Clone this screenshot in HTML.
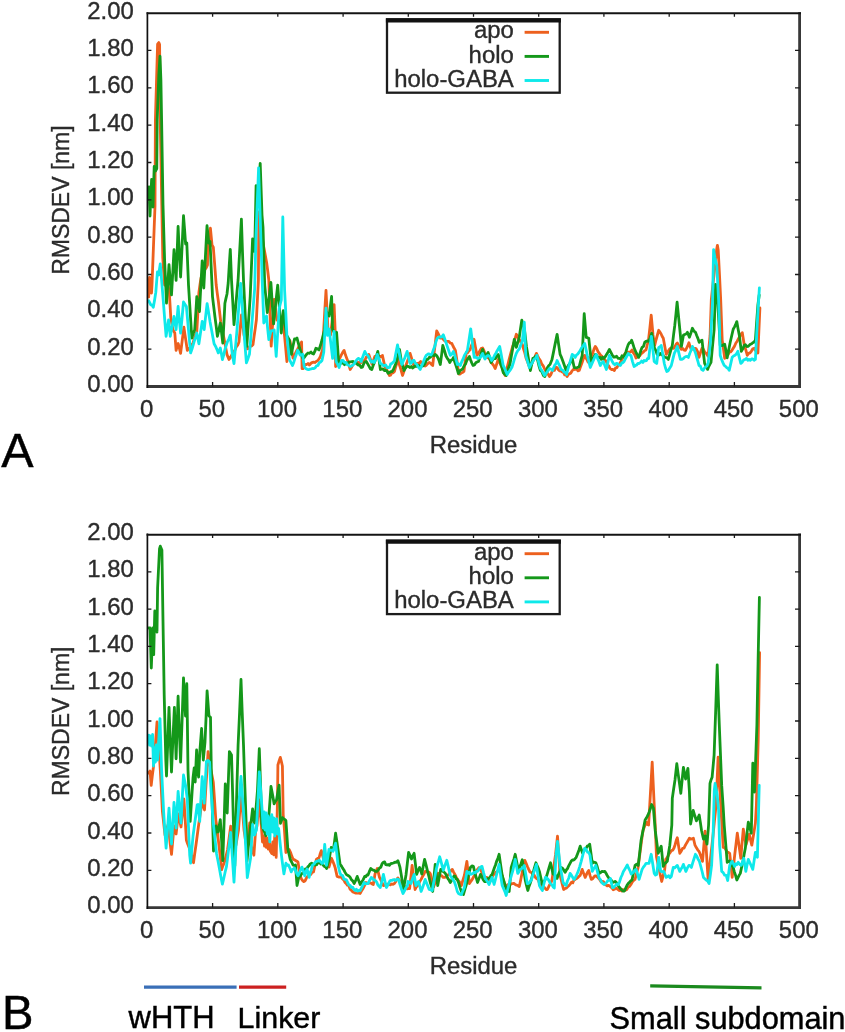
<!DOCTYPE html>
<html lang="en"><head><meta charset="utf-8"><title>RMSDEV per residue</title>
<style>html,body{margin:0;padding:0;background:#fff}body{width:845px;height:1032px;overflow:hidden}svg{display:block}</style>
</head><body>
<svg width="845" height="1032" viewBox="0 0 845 1032">
<style>.t{font-family:"Liberation Sans",sans-serif;font-size:23px;fill:#2b2b2b;stroke:#2b2b2b;stroke-width:.35px}.b{font-family:"Liberation Sans",sans-serif;fill:#000;stroke:#000;stroke-width:.45px}</style>
<rect width="845" height="1032" fill="#fff"/>
<polyline points="148.7,297.0 149.5,277.5 151.5,293.0 152.0,285.0 153.5,245.5 155.0,206.0 155.4,120.0 156.5,82.0 157.6,44.0 158.8,42.5 159.6,44.5 160.2,120.0 161.8,205.0 162.8,258.0 164.5,285.0 166.5,280.0 168.0,285.0 169.3,292.0 170.8,318.0 171.9,324.0 173.0,330.0 174.8,333.0 176.1,350.4 177.1,346.4 178.2,343.5 179.4,348.4 180.6,353.3 181.7,344.6 182.8,335.9 183.9,327.2 185.0,334.9 186.2,342.7 187.3,350.4 188.7,348.3 190.0,348.0 191.5,345.0 193.0,343.0 194.3,339.0 195.5,334.7 196.8,331.4 197.9,311.9 198.9,292.4 199.9,285.2 201.0,278.0 202.5,273.7 204.0,270.0 205.2,269.1 206.3,267.7 207.5,265.0 207.8,246.0 209.1,237.1 210.4,228.2 212.0,245.0 213.3,247.2 214.8,266.1 216.2,285.0 217.2,292.9 218.3,300.7 219.5,311.0 220.7,321.4 222.1,328.6 223.5,335.8 224.9,343.0 225.9,348.8 227.0,354.6 229.0,359.5 230.2,357.9 231.5,355.4 232.7,353.1 233.8,351.5 235.0,350.0 236.3,346.8 237.7,345.1 239.0,342.0 240.2,328.4 241.5,314.8 242.8,324.9 244.0,335.0 245.1,339.6 246.2,344.2 247.3,348.8 248.7,348.4 250.2,345.6 251.6,346.1 253.0,344.6 254.1,336.3 255.3,328.1 256.4,319.8 258.4,280.0 258.8,212.0 259.8,212.0 261.1,226.0 262.5,240.0 263.9,247.7 265.3,255.3 266.7,263.0 267.8,271.5 268.8,280.0 270.0,313.1 271.2,346.2 272.7,322.8 274.2,299.4 275.6,309.7 277.0,320.0 278.5,319.6 280.0,318.0 281.3,321.0 282.5,324.8 283.8,328.0 285.4,344.8 286.9,361.5 288.4,351.2 290.0,341.0 291.5,349.5 293.0,358.0 294.5,355.2 296.0,352.0 297.4,349.5 298.8,346.8 300.2,344.4 301.6,342.0 302.1,368.6 303.2,368.6 304.4,365.4 305.6,364.5 306.7,364.5 308.0,363.5 309.4,365.0 310.7,363.5 312.1,362.5 313.4,362.2 314.8,362.5 316.4,361.4 317.9,360.5 319.1,358.8 320.4,356.4 321.4,353.1 322.5,350.0 323.7,330.1 324.8,310.3 326.0,290.4 328.0,330.0 329.2,331.9 330.5,335.0 331.7,324.9 332.9,314.7 334.1,304.6 335.1,329.3 335.6,366.5 337.0,363.9 338.4,361.5 339.7,358.4 341.1,355.4 342.6,352.6 344.1,350.4 345.6,355.3 347.2,359.4 348.7,364.4 350.2,369.5 351.4,367.6 352.6,365.4 353.8,363.7 355.0,363.0 356.2,363.2 357.5,362.3 358.7,363.0 360.0,361.7 361.2,362.5 362.5,360.5 363.7,361.4 365.0,360.0 366.3,357.1 367.5,356.8 368.8,354.4 370.4,359.3 372.0,364.0 373.4,360.7 374.8,356.4 376.0,357.5 377.3,357.0 378.5,356.0 379.8,356.3 381.1,356.8 382.4,355.4 384.4,364.5 385.6,367.8 386.9,370.0 388.1,372.5 389.4,375.5 390.6,375.1 391.9,372.6 393.1,372.8 394.4,371.5 395.6,367.2 396.8,363.4 398.0,359.4 399.5,365.1 401.0,369.9 402.5,375.5 403.7,372.0 404.8,368.1 406.0,365.0 407.4,361.3 408.7,357.7 410.1,353.4 411.4,357.6 412.7,362.1 414.0,366.0 415.3,364.8 416.7,363.5 418.0,363.4 419.4,362.9 420.7,361.5 422.1,363.7 423.6,364.7 425.0,366.0 426.4,365.2 427.8,363.6 429.2,362.5 430.4,363.0 431.5,364.4 432.7,365.5 434.0,353.9 435.4,342.4 436.7,330.8 437.8,332.9 438.9,335.2 440.0,338.0 441.2,338.2 442.4,338.2 443.6,339.7 444.9,340.9 446.1,341.5 447.3,341.3 448.8,341.3 450.3,343.2 451.8,343.4 453.0,346.0 454.2,348.3 455.4,350.4 456.6,358.3 457.7,366.1 458.9,374.0 460.1,374.1 461.4,372.8 462.6,372.5 463.9,371.5 465.1,361.9 466.4,352.4 467.6,352.7 468.8,350.9 470.0,350.0 471.3,345.9 472.7,342.9 474.0,339.3 475.5,347.4 477.0,355.4 478.2,353.9 479.5,351.4 481.1,348.6 482.6,347.9 483.7,350.1 484.9,353.3 486.0,356.0 487.3,357.4 488.7,358.1 490.0,360.0 491.3,362.6 492.6,364.2 493.9,365.9 495.2,368.5 496.7,364.0 498.2,359.4 499.6,362.4 501.0,365.5 502.4,368.5 503.8,372.7 505.2,375.5 506.4,370.5 507.7,365.4 508.9,360.4 510.2,355.4 511.4,350.9 512.6,346.5 513.9,343.0 515.1,338.5 516.3,334.3 517.5,336.1 518.7,338.8 519.9,340.3 521.1,342.8 522.3,344.4 523.5,348.8 524.8,352.9 526.0,358.0 527.3,361.1 528.7,365.1 530.0,368.0 531.3,364.9 532.6,362.0 533.8,359.0 535.1,356.6 536.4,353.4 537.7,356.1 539.1,358.8 540.4,360.5 541.7,364.0 543.1,365.7 544.4,368.5 545.7,370.9 547.0,372.1 548.2,374.3 549.5,376.5 550.7,374.9 551.8,372.2 553.0,370.0 554.4,370.4 555.7,367.2 557.1,367.5 558.4,369.8 559.7,370.9 561.0,371.0 562.2,372.0 563.4,372.0 564.7,374.9 565.9,374.3 567.1,376.5 568.3,374.3 569.5,373.9 570.8,373.0 572.0,371.0 573.2,369.5 574.4,369.5 575.6,369.1 576.8,369.2 578.0,370.8 579.2,370.5 580.6,366.6 582.0,362.7 583.3,358.7 584.7,355.4 585.8,357.7 586.9,359.4 588.0,362.0 589.2,360.1 590.3,358.3 591.5,356.0 592.8,352.7 594.0,349.2 595.3,346.4 596.6,348.2 598.0,351.6 599.3,353.4 600.7,355.3 602.1,356.4 603.6,359.4 605.0,360.0 606.3,361.5 607.6,364.6 608.8,366.0 610.1,368.5 611.4,369.5 612.9,369.4 614.4,370.5 615.6,367.9 616.9,367.6 618.1,365.3 619.4,364.5 620.7,362.0 622.0,358.9 623.2,357.1 624.5,354.4 625.7,352.7 626.8,354.0 628.0,352.0 629.3,352.4 630.7,351.8 632.0,350.0 633.3,352.8 634.7,354.8 636.0,358.0 637.2,356.9 638.5,356.5 639.8,355.6 641.0,354.0 642.2,353.0 643.5,351.9 644.8,350.5 646.0,350.0 647.2,345.0 648.5,340.0 649.9,327.6 651.2,315.2 653.0,335.0 654.7,345.4 656.0,340.0 657.4,335.0 658.7,330.3 659.9,332.1 661.0,333.7 662.1,336.2 663.3,338.3 664.8,346.4 666.3,354.4 667.8,351.7 669.3,349.4 670.8,348.1 672.3,348.1 673.8,348.4 675.0,346.4 676.1,344.3 677.3,343.0 678.7,345.6 680.0,347.5 681.4,349.4 682.7,348.5 684.1,350.2 685.4,350.4 686.6,348.1 687.7,345.9 688.9,342.8 690.0,346.1 691.0,349.0 692.3,349.1 693.7,348.6 695.0,348.3 696.2,348.8 697.5,351.4 699.0,357.3 700.5,352.5 702.0,348.3 703.4,349.4 704.7,352.1 706.1,353.3 708.1,356.3 710.1,335.2 711.3,300.0 712.6,287.5 714.0,275.0 715.3,262.5 716.6,250.0 717.4,245.3 718.2,250.0 719.5,275.0 720.7,300.0 722.2,340.2 723.5,349.3 724.7,358.4 725.9,356.0 727.0,355.1 728.2,354.3 729.5,351.7 730.7,351.9 732.0,350.3 733.2,348.3 734.5,346.2 735.9,343.0 737.2,341.2 738.5,338.7 739.8,336.4 741.0,334.4 742.3,332.7 744.3,345.3 745.8,349.9 747.3,355.3 748.6,353.4 750.0,352.9 751.3,351.3 752.8,348.8 754.3,348.3 755.5,350.6 756.7,350.5 757.9,353.0 759.9,308.0" fill="none" stroke="#ed601e" stroke-width="2.8" stroke-linejoin="round" stroke-linecap="round"/>
<polyline points="148.7,200.0 149.0,187.0 150.0,216.0 151.6,179.5 153.0,207.0 154.2,166.5 155.5,171.0 156.8,168.5 157.2,120.0 158.8,75.0 160.0,56.2 160.9,80.0 161.6,120.0 163.0,205.0 164.6,260.0 166.5,303.2 167.8,283.9 169.0,264.6 170.2,279.8 171.5,294.9 172.8,272.3 174.0,249.7 175.1,265.0 176.1,280.4 178.1,226.5 179.3,251.8 180.6,277.0 182.1,246.3 183.5,215.7 184.6,229.8 185.6,244.0 186.8,243.0 188.5,285.0 189.6,302.7 190.7,320.3 191.8,338.0 193.2,333.4 194.7,329.7 195.8,313.1 196.8,296.6 198.2,304.1 199.5,311.5 200.8,286.2 202.2,260.9 203.8,288.0 205.4,256.9 207.0,225.7 208.8,243.0 210.0,241.4 212.0,285.0 212.5,296.6 213.7,306.5 214.9,316.5 216.2,326.4 217.4,336.3 218.9,329.6 220.3,323.0 221.6,333.0 222.8,343.0 223.9,323.1 224.9,303.2 225.9,298.6 227.0,294.0 228.2,283.0 229.2,266.1 230.3,249.3 231.5,280.0 232.8,302.4 234.0,324.7 235.4,309.8 236.7,294.9 238.1,280.0 239.2,259.7 240.3,239.5 241.4,219.2 242.4,249.6 243.5,280.0 244.6,302.1 245.7,324.2 246.8,346.3 247.9,329.7 249.1,313.2 250.2,296.6 251.4,267.8 252.6,238.9 253.6,245.2 254.7,251.4 256.1,185.6 257.6,205.0 258.9,184.2 260.2,163.3 262.0,215.0 263.0,227.3 264.7,285.0 266.0,298.8 267.3,312.5 268.5,302.5 269.7,292.5 270.9,282.5 272.2,303.1 273.6,323.8 275.0,310.9 276.3,298.1 277.7,285.2 278.9,301.1 280.1,317.1 281.3,333.0 283.3,310.6 284.9,322.8 286.5,335.0 287.9,337.6 289.4,340.0 291.4,354.3 292.9,346.6 294.5,339.0 295.8,339.2 297.0,338.0 298.3,343.2 299.6,348.0 301.1,352.9 302.5,358.0 304.1,357.8 305.7,355.4 306.9,354.0 308.0,353.0 309.5,353.3 311.0,352.0 312.2,353.5 313.5,354.0 314.7,351.7 315.9,348.2 317.4,348.8 319.0,350.0 320.5,345.3 322.0,340.0 323.2,335.0 324.5,330.0 326.5,312.0 327.8,314.1 329.1,316.0 330.4,306.2 331.6,296.5 332.6,329.3 334.5,333.0 335.6,333.5 336.6,332.3 338.6,361.5 339.7,362.8 340.9,363.0 342.0,363.0 343.2,363.1 344.5,364.7 345.8,362.9 347.0,364.0 348.2,362.6 349.5,361.8 350.7,361.9 352.0,361.6 353.2,361.5 354.5,362.5 355.7,362.3 357.0,364.0 358.4,365.0 359.8,365.2 361.2,367.5 362.5,367.1 363.8,363.5 365.0,361.8 366.3,361.5 367.7,363.9 369.1,366.4 370.4,368.7 371.8,369.5 373.4,364.9 375.0,361.0 376.4,356.1 377.8,351.4 379.1,360.4 380.4,369.5 381.7,369.2 383.1,369.0 384.4,370.5 385.6,370.4 386.9,371.1 388.1,373.2 389.4,372.5 390.7,371.7 392.1,371.6 393.4,369.5 394.6,366.5 395.8,363.4 397.0,360.0 398.2,354.7 399.5,349.4 401.5,362.0 402.8,366.4 404.0,370.5 405.5,368.1 407.0,366.0 408.6,366.5 410.1,367.5 411.3,366.5 412.5,368.0 413.6,367.3 414.8,366.0 416.0,366.5 417.2,366.0 418.4,365.3 419.6,365.7 420.8,366.5 422.0,366.0 423.2,365.8 424.4,364.4 425.6,362.0 426.8,359.3 428.0,359.4 429.2,357.4 430.4,357.3 431.6,355.4 432.8,355.0 434.0,355.7 435.2,354.4 436.6,355.5 438.0,358.0 439.1,360.8 440.3,364.5 441.6,354.9 442.8,345.4 444.4,350.5 446.0,356.0 447.3,358.3 448.5,359.9 449.8,362.5 451.0,360.3 452.3,359.8 453.5,357.5 454.7,361.9 455.9,365.4 457.2,369.3 458.4,373.5 459.8,370.8 461.2,369.9 462.6,369.0 464.0,366.0 465.4,364.2 466.7,360.7 468.0,358.6 469.4,356.4 470.6,359.9 471.8,363.0 473.0,365.5 474.4,365.0 475.8,362.8 477.1,362.0 478.5,361.5 479.9,357.7 481.2,353.3 482.6,349.4 483.8,352.8 485.0,357.4 486.6,354.8 488.1,352.4 489.6,357.2 491.1,362.5 492.5,360.0 493.9,358.6 495.4,358.5 496.8,355.9 498.2,354.4 499.4,358.7 500.7,363.5 501.9,367.4 503.2,372.5 504.7,374.2 506.2,375.5 507.5,371.4 508.7,367.4 510.0,364.0 511.4,355.8 512.9,347.5 514.3,339.3 516.3,347.4 517.8,342.4 519.3,337.0 520.5,328.6 521.8,320.2 523.1,324.8 524.5,330.0 526.5,347.0 527.8,354.8 529.1,362.7 530.4,370.5 531.6,364.4 532.9,358.4 534.1,358.1 535.2,356.7 536.4,356.4 537.7,360.5 539.1,366.4 540.4,370.5 541.9,371.8 543.4,375.5 544.9,376.5 546.2,371.6 547.5,367.5 548.8,365.5 550.0,364.5 552.0,359.4 553.3,353.1 554.5,346.9 555.8,340.6 557.1,334.3 558.6,344.4 560.1,354.4 561.5,357.4 563.0,361.5 564.5,365.8 566.1,370.5 567.3,367.7 568.5,365.1 569.8,363.7 571.0,360.4 572.2,358.4 574.2,367.5 575.5,367.7 576.7,367.8 578.0,367.3 579.2,366.5 580.7,360.7 582.2,355.4 584.2,313.7 586.2,337.3 587.5,337.7 588.8,338.3 590.0,349.9 591.3,361.5 592.6,359.2 594.0,356.9 595.3,354.4 596.5,355.1 597.7,356.8 598.9,357.6 600.1,357.5 601.3,359.4 602.7,357.3 604.0,358.4 605.4,356.4 606.7,354.3 608.1,352.0 609.4,349.4 610.9,352.3 612.4,355.4 613.8,357.2 615.2,357.0 616.6,356.3 618.0,358.3 619.4,358.4 620.7,358.8 622.0,355.8 623.2,356.9 624.5,355.4 625.8,352.2 627.0,348.1 628.3,344.4 629.4,342.7 630.5,342.7 631.6,340.3 632.8,343.6 633.9,347.2 635.1,350.4 636.3,353.0 637.4,354.7 638.6,357.4 639.8,354.2 640.9,350.3 642.1,347.4 643.5,346.4 644.8,342.2 646.2,341.3 647.5,340.9 648.7,341.3 650.2,337.8 651.7,333.3 653.0,340.4 654.2,347.4 655.7,350.3 657.2,354.4 658.7,355.1 660.2,353.4 661.5,354.9 662.8,354.7 664.0,357.1 665.3,357.4 666.8,357.6 668.3,359.4 669.6,354.7 671.0,349.6 672.3,345.4 673.5,335.3 674.8,325.2 676.0,313.6 677.1,302.1 678.2,313.2 679.3,324.2 680.4,335.3 681.4,346.4 683.4,335.3 684.7,334.5 686.1,334.0 687.4,332.3 689.4,337.3 690.9,333.0 692.4,328.3 694.0,331.1 695.5,332.3 696.7,335.5 698.0,338.6 699.2,342.3 700.6,340.9 702.0,340.2 703.3,351.8 704.6,363.4 706.1,366.4 707.6,369.4 708.7,366.5 709.9,364.3 711.0,362.4 712.5,346.3 714.1,330.2 715.6,284.3 717.6,300.0 718.9,322.6 720.2,345.3 721.7,345.7 723.2,344.9 724.7,344.3 726.0,351.1 727.2,357.8 728.7,350.1 730.2,342.3 731.7,335.8 733.2,329.2 734.4,327.1 735.6,324.7 736.8,321.6 738.0,328.4 739.3,335.2 741.3,351.3 742.8,348.7 744.3,345.3 745.5,344.7 746.8,346.5 748.0,346.4 749.3,345.3 750.4,344.1 751.6,343.9 752.8,342.6 753.9,342.3 755.4,340.0 756.6,322.5 757.9,305.0 759.2,295.0" fill="none" stroke="#14981a" stroke-width="2.8" stroke-linejoin="round" stroke-linecap="round"/>
<polyline points="148.7,300.7 149.8,302.8 150.8,304.9 152.1,305.2 153.3,307.3 154.6,299.9 155.8,292.4 157.4,272.0 158.6,275.0 160.3,263.8 161.6,280.0 163.6,304.9 164.8,320.6 166.1,336.3 167.3,328.1 168.6,319.8 170.3,336.3 171.5,329.7 172.8,323.1 174.0,316.5 175.1,323.1 176.1,329.7 178.1,306.5 179.3,319.8 180.6,333.0 182.1,317.5 183.5,302.0 184.9,304.2 186.4,306.5 187.8,322.0 189.2,337.4 190.6,352.9 192.0,349.1 193.3,344.5 194.7,339.7 195.8,336.9 196.8,333.0 197.9,338.4 198.9,343.8 200.0,336.3 201.1,328.9 202.2,321.4 204.2,329.7 205.6,316.6 207.1,303.6 208.6,312.5 210.0,321.4 211.4,328.9 212.7,336.3 214.1,343.8 215.5,346.2 216.9,349.3 218.3,352.9 220.3,348.0 221.4,353.8 222.4,359.5 223.6,355.4 224.8,350.1 226.0,346.0 227.4,341.8 228.9,338.8 230.3,335.1 232.3,354.6 234.0,363.7 235.5,346.9 237.0,330.0 238.2,314.4 239.4,298.9 240.6,283.3 242.1,304.1 243.5,325.0 244.9,343.9 246.4,362.8 247.9,358.9 249.5,354.0 250.8,337.6 252.1,321.1 253.4,304.7 254.7,288.3 256.0,235.0 257.3,201.4 258.6,167.8 260.6,230.0 262.2,280.0 263.8,323.0 265.1,320.1 266.5,316.0 267.6,327.8 268.8,339.6 269.9,335.4 271.0,331.0 272.6,330.7 274.2,330.0 276.2,356.4 277.7,332.5 279.2,308.6 280.2,304.3 281.3,300.0 282.8,217.0 284.6,290.0 285.8,313.0 286.9,336.0 288.1,347.7 289.4,359.4 290.9,362.4 292.5,365.5 293.8,362.2 295.0,358.0 296.3,354.4 297.6,350.3 298.8,352.3 300.0,355.0 301.3,354.8 302.6,354.3 304.2,366.6 305.7,368.5 307.2,369.3 308.7,369.6 310.0,369.2 311.2,368.9 312.5,368.5 313.8,368.6 315.2,367.8 316.5,365.9 317.9,365.5 319.3,362.7 320.6,362.0 322.0,360.5 323.8,352.0 324.9,330.1 326.0,308.1 327.5,335.3 329.2,329.0 330.1,337.3 331.4,347.9 332.6,358.4 334.1,331.3 336.1,361.5 337.6,364.4 339.1,367.5 340.4,363.5 341.6,360.5 343.1,360.5 344.5,362.4 346.0,362.5 347.4,364.8 348.8,365.3 350.2,366.5 351.5,365.9 352.7,365.2 354.0,364.0 355.4,361.7 356.8,359.8 358.2,358.4 359.7,359.0 361.2,361.5 362.4,358.0 363.6,354.7 364.8,351.4 366.3,354.4 367.8,355.4 369.1,357.8 370.3,360.5 371.6,362.2 373.0,360.9 374.3,362.5 375.8,359.0 377.3,354.4 378.9,358.7 380.4,363.5 381.7,364.1 383.1,365.5 384.4,365.5 385.7,365.0 387.1,367.5 388.4,367.5 389.6,367.3 390.7,363.9 391.9,363.5 393.1,362.2 394.4,361.0 395.9,352.9 397.5,344.9 399.0,352.1 400.5,359.4 402.0,364.5 403.3,360.8 404.6,358.4 405.8,355.1 407.1,351.4 408.6,357.4 410.1,363.5 411.4,363.2 412.8,360.5 414.1,360.5 415.3,363.3 416.5,363.9 417.8,366.4 419.0,368.0 420.2,369.5 421.4,366.4 422.6,363.9 423.8,360.7 425.0,357.7 426.2,355.4 427.4,354.5 428.6,353.8 429.8,354.5 431.0,355.0 432.2,353.4 433.5,349.5 434.8,346.3 436.0,341.5 437.3,338.3 438.8,336.9 440.3,337.0 441.8,336.8 443.3,334.8 444.8,339.0 446.3,343.4 447.6,347.4 449.0,351.5 450.3,355.4 451.9,354.2 453.4,351.4 454.7,355.2 456.1,360.2 457.4,364.5 458.9,363.9 460.4,365.5 461.7,361.7 463.1,359.0 464.4,355.4 465.9,352.9 467.4,350.4 468.5,343.2 469.6,336.0 470.7,328.8 471.9,338.3 473.0,347.9 474.2,357.4 475.4,357.0 476.6,357.7 477.8,358.5 479.0,358.0 480.2,357.6 481.4,355.4 482.6,353.4 483.8,356.8 485.0,359.0 486.6,356.2 488.1,355.4 489.3,356.1 490.4,357.8 491.6,360.5 493.1,358.5 494.5,355.5 496.0,353.0 497.2,350.7 498.5,348.5 499.7,346.4 500.9,352.8 502.0,359.1 503.2,365.5 504.5,368.0 505.9,371.4 507.2,374.5 508.4,372.3 509.6,370.9 510.8,369.2 512.0,367.0 513.4,362.6 514.9,357.4 516.3,353.4 517.8,350.6 519.3,349.0 520.8,344.8 522.3,341.3 524.3,322.2 525.8,355.4 527.0,359.5 528.2,363.5 529.4,367.5 530.7,365.0 532.1,362.9 533.4,360.5 534.6,358.7 535.7,358.3 536.9,355.4 538.1,359.8 539.2,364.4 540.4,368.5 541.7,370.3 543.1,372.8 544.4,375.5 545.7,373.9 547.0,372.2 548.2,370.4 549.5,368.5 551.0,369.0 552.5,370.5 553.6,367.8 554.8,365.1 556.0,363.6 557.1,360.5 558.4,363.4 559.8,366.2 561.1,369.5 562.5,370.0 563.9,371.9 565.2,372.4 566.6,374.5 568.0,368.9 569.4,364.1 570.8,359.4 572.2,354.4 573.7,355.4 575.2,357.4 576.5,355.0 577.7,354.1 579.0,352.4 580.2,350.4 581.7,347.8 583.2,345.7 584.7,343.4 586.0,349.4 587.3,355.4 588.8,361.4 590.3,367.5 591.5,364.7 592.7,361.9 593.9,359.2 595.1,356.5 596.3,354.4 597.6,358.7 599.0,361.7 600.3,365.5 601.8,362.8 603.3,361.5 604.8,365.4 606.4,369.5 607.9,362.4 609.4,355.4 610.7,358.2 612.1,361.2 613.4,363.5 614.8,364.8 616.2,363.4 617.7,363.6 619.1,365.2 620.5,365.5 621.7,363.0 622.8,362.8 624.0,361.5 625.4,358.7 626.9,356.0 628.3,353.4 629.6,354.9 631.0,355.5 632.5,361.6 634.1,366.5 635.4,365.6 636.6,365.0 637.9,363.4 639.1,363.5 640.4,362.5 641.6,361.0 642.9,362.4 644.1,360.5 645.2,360.9 646.4,360.6 647.6,358.3 648.7,358.5 650.0,347.4 651.4,336.3 652.8,348.9 654.2,361.5 655.5,362.6 656.7,363.5 658.7,347.4 660.0,346.8 661.2,345.4 662.8,354.4 664.3,363.5 665.5,368.0 666.8,371.5 668.3,370.7 669.8,367.9 671.3,365.5 672.8,359.4 674.3,353.4 675.8,350.4 677.3,346.4 678.8,352.9 680.4,359.4 681.7,359.4 683.1,358.8 684.4,357.4 685.7,356.6 687.1,356.5 688.4,357.4 689.7,353.5 691.1,350.3 692.4,346.4 694.0,349.3 695.5,353.0 696.7,357.4 697.8,361.0 699.0,365.4 700.3,366.1 701.7,369.6 703.0,370.4 704.3,368.4 705.5,367.0 706.8,366.0 708.1,363.4 709.4,351.8 710.6,340.2 712.6,300.0 713.6,249.6 715.0,258.0 716.8,266.0 718.6,300.0 719.4,325.0 720.2,355.3 721.5,359.2 722.9,362.6 724.2,365.4 725.5,366.3 726.7,367.7 728.0,368.3 729.2,370.4 730.7,363.9 732.2,357.3 733.6,356.0 735.0,355.3 736.4,353.9 737.8,351.3 739.3,357.4 740.8,363.4 742.3,362.1 743.8,359.8 745.3,359.4 746.5,358.4 747.8,360.3 749.0,359.5 750.3,360.4 751.6,359.0 752.8,358.9 754.1,360.2 755.4,359.4 756.9,330.2 758.1,309.0 759.4,287.8" fill="none" stroke="#0ee9ea" stroke-width="2.8" stroke-linejoin="round" stroke-linecap="round"/>
<path d="M799.6 12.2V387.9" stroke="#383838" stroke-width="2.8" fill="none"/>
<path d="M146.6 386.5H801.0" stroke="#383838" stroke-width="2.8" fill="none"/>
<path d="M147.4 12.2V387.9" stroke="#101010" stroke-width="1.7" fill="none"/>
<path d="M146.6 13.3H801.0" stroke="#141414" stroke-width="1.9" fill="none"/>
<path d="M147.4 349.2h4M799.6 349.2h-4.6" stroke="#1a1a1a" stroke-width="1.3"/>
<path d="M147.4 311.8h4M799.6 311.8h-4.6" stroke="#1a1a1a" stroke-width="1.3"/>
<path d="M147.4 274.5h4M799.6 274.5h-4.6" stroke="#1a1a1a" stroke-width="1.3"/>
<path d="M147.4 237.1h4M799.6 237.1h-4.6" stroke="#1a1a1a" stroke-width="1.3"/>
<path d="M147.4 199.8h4M799.6 199.8h-4.6" stroke="#1a1a1a" stroke-width="1.3"/>
<path d="M147.4 162.5h4M799.6 162.5h-4.6" stroke="#1a1a1a" stroke-width="1.3"/>
<path d="M147.4 125.1h4M799.6 125.1h-4.6" stroke="#1a1a1a" stroke-width="1.3"/>
<path d="M147.4 87.8h4M799.6 87.8h-4.6" stroke="#1a1a1a" stroke-width="1.3"/>
<path d="M147.4 50.4h4M799.6 50.4h-4.6" stroke="#1a1a1a" stroke-width="1.3"/>
<path d="M212.6 386.5v-4.6M212.6 13.1v3.6" stroke="#1a1a1a" stroke-width="1.3"/>
<path d="M277.8 386.5v-4.6M277.8 13.1v3.6" stroke="#1a1a1a" stroke-width="1.3"/>
<path d="M343.1 386.5v-4.6M343.1 13.1v3.6" stroke="#1a1a1a" stroke-width="1.3"/>
<path d="M408.3 386.5v-4.6M408.3 13.1v3.6" stroke="#1a1a1a" stroke-width="1.3"/>
<path d="M473.5 386.5v-4.6M473.5 13.1v3.6" stroke="#1a1a1a" stroke-width="1.3"/>
<path d="M538.7 386.5v-4.6M538.7 13.1v3.6" stroke="#1a1a1a" stroke-width="1.3"/>
<path d="M603.9 386.5v-4.6M603.9 13.1v3.6" stroke="#1a1a1a" stroke-width="1.3"/>
<path d="M669.2 386.5v-4.6M669.2 13.1v3.6" stroke="#1a1a1a" stroke-width="1.3"/>
<path d="M734.4 386.5v-4.6M734.4 13.1v3.6" stroke="#1a1a1a" stroke-width="1.3"/>
<text transform="translate(133.8 392.1) scale(1.04 1)" text-anchor="end" class="t">0.00</text>
<text transform="translate(133.8 354.8) scale(1.04 1)" text-anchor="end" class="t">0.20</text>
<text transform="translate(133.8 317.4) scale(1.04 1)" text-anchor="end" class="t">0.40</text>
<text transform="translate(133.8 280.1) scale(1.04 1)" text-anchor="end" class="t">0.60</text>
<text transform="translate(133.8 242.7) scale(1.04 1)" text-anchor="end" class="t">0.80</text>
<text transform="translate(133.8 205.4) scale(1.04 1)" text-anchor="end" class="t">1.00</text>
<text transform="translate(133.8 168.1) scale(1.04 1)" text-anchor="end" class="t">1.20</text>
<text transform="translate(133.8 130.7) scale(1.04 1)" text-anchor="end" class="t">1.40</text>
<text transform="translate(133.8 93.4) scale(1.04 1)" text-anchor="end" class="t">1.60</text>
<text transform="translate(133.8 56.0) scale(1.04 1)" text-anchor="end" class="t">1.80</text>
<text transform="translate(133.8 18.7) scale(1.04 1)" text-anchor="end" class="t">2.00</text>
<text transform="translate(146.6 416.5) scale(1.04 1)" text-anchor="middle" class="t">0</text>
<text transform="translate(211.8 416.5) scale(1.04 1)" text-anchor="middle" class="t">50</text>
<text transform="translate(277.0 416.5) scale(1.04 1)" text-anchor="middle" class="t">100</text>
<text transform="translate(342.3 416.5) scale(1.04 1)" text-anchor="middle" class="t">150</text>
<text transform="translate(407.5 416.5) scale(1.04 1)" text-anchor="middle" class="t">200</text>
<text transform="translate(472.7 416.5) scale(1.04 1)" text-anchor="middle" class="t">250</text>
<text transform="translate(537.9 416.5) scale(1.04 1)" text-anchor="middle" class="t">300</text>
<text transform="translate(603.1 416.5) scale(1.04 1)" text-anchor="middle" class="t">350</text>
<text transform="translate(668.4 416.5) scale(1.04 1)" text-anchor="middle" class="t">400</text>
<text transform="translate(733.6 416.5) scale(1.04 1)" text-anchor="middle" class="t">450</text>
<text transform="translate(798.8 416.5) scale(1.04 1)" text-anchor="middle" class="t">500</text>
<text transform="translate(473.5 453.0) scale(1.04 1)" text-anchor="middle" class="t">Residue</text>
<text transform="translate(69.2 200.1) rotate(-90) scale(1 1.08)" text-anchor="middle" class="t">RMSDEV [nm]</text>
<rect x="387" y="19.4" width="172.7" height="73.3" fill="#fff" stroke="#1c1c1c" stroke-width="2.3"/>
<path d="M385.9 20.3H560.9" stroke="#111" stroke-width="4.3"/>
<text transform="translate(513.8 38.4) scale(1.04 1)" text-anchor="end" class="t">apo</text>
<path d="M524.6 32.3H549" stroke="#ed601e" stroke-width="2.9"/>
<text transform="translate(513.8 62.5) scale(1.04 1)" text-anchor="end" class="t">holo</text>
<path d="M524.6 56.4H549" stroke="#14981a" stroke-width="2.9"/>
<text transform="translate(513.8 86.6) scale(1.04 1)" text-anchor="end" class="t">holo-GABA</text>
<path d="M524.6 80.5H549" stroke="#0ee9ea" stroke-width="2.9"/>
<polyline points="148.7,773.0 150.0,771.0 151.2,785.3 152.2,776.6 153.3,768.0 155.0,750.0 157.0,722.0 158.5,740.0 160.3,770.0 161.4,790.7 162.4,811.4 163.7,823.2 165.0,835.0 166.5,829.8 168.0,825.0 169.2,834.8 170.3,844.6 171.5,854.4 172.8,840.2 174.0,826.0 175.1,830.1 176.1,834.0 177.2,824.0 178.3,814.0 179.7,820.5 181.0,827.0 182.4,813.0 183.9,799.0 185.2,819.7 186.4,840.4 187.6,843.8 188.8,846.7 190.0,850.0 191.2,853.9 192.3,858.3 193.5,862.7 194.7,853.7 196.0,844.8 197.2,835.8 198.9,823.0 200.0,815.6 201.1,808.1 202.2,800.7 203.3,805.4 204.5,810.0 206.0,785.0 207.1,768.3 208.1,751.6 210.0,765.0 211.1,770.8 212.2,776.5 213.3,782.3 214.6,801.0 215.8,819.6 217.0,827.8 218.2,838.9 219.5,850.0 220.6,859.9 221.6,869.7 222.7,866.4 223.8,863.8 224.9,860.6 226.2,855.3 227.5,850.0 229.1,838.1 230.7,826.2 231.8,838.1 233.0,850.0 234.5,847.5 236.0,845.0 237.2,837.5 238.5,830.0 239.8,810.7 241.0,791.4 242.5,810.7 244.0,830.0 245.5,840.0 247.0,850.0 248.3,836.5 249.7,822.9 251.0,845.0 252.4,850.4 253.9,855.2 255.5,832.0 257.0,826.0 258.1,813.0 259.3,800.0 261.3,825.4 262.5,842.0 263.5,836.0 264.5,846.0 265.5,838.0 266.3,847.4 267.3,838.0 268.3,849.0 269.3,840.0 270.3,851.0 271.8,853.5 272.8,842.0 273.8,854.8 274.7,837.0 276.2,857.4 277.5,800.0 277.9,765.0 279.1,761.0 280.3,757.4 281.4,761.7 282.4,766.0 283.2,814.6 284.4,829.2 285.9,852.5 287.0,851.6 288.1,851.0 289.2,849.6 290.5,852.3 291.8,856.1 293.1,859.3 294.3,859.7 295.6,860.5 296.8,861.2 298.0,862.2 299.2,869.5 300.4,876.8 301.5,879.0 302.7,880.7 303.8,881.6 305.2,880.7 306.6,877.6 308.0,876.0 309.4,873.8 310.8,874.4 312.1,872.3 313.5,871.9 314.9,865.6 316.4,859.3 317.7,858.4 319.0,858.0 320.1,854.0 321.3,850.6 322.4,854.8 323.5,859.0 324.9,860.1 326.2,862.4 327.6,866.2 329.0,867.1 330.2,862.6 331.5,858.3 332.7,861.0 333.9,864.1 335.1,867.4 337.1,876.4 338.6,877.0 340.0,877.0 341.5,877.4 342.6,878.9 343.8,880.0 345.0,882.5 346.1,883.5 347.5,885.3 348.8,885.8 350.1,889.2 351.5,890.4 352.9,892.0 354.2,892.5 355.4,893.1 356.6,893.1 357.8,893.2 359.0,893.1 360.2,893.5 361.6,890.6 363.1,888.4 364.6,885.3 366.0,882.5 367.2,883.6 368.4,882.9 369.6,883.0 370.9,883.0 372.1,883.9 373.3,884.5 375.0,874.0 376.1,871.0 377.3,868.4 378.4,872.9 379.5,877.4 380.8,879.9 382.1,883.0 383.4,885.5 384.8,885.4 386.2,884.7 387.6,884.1 389.0,884.5 390.4,884.8 391.7,884.0 393.0,884.3 394.4,883.5 395.6,881.8 396.7,879.5 397.9,877.9 399.1,880.0 400.3,882.4 401.5,884.0 402.7,884.2 403.8,886.1 405.0,886.5 406.2,887.8 407.3,888.9 408.5,888.5 409.6,888.5 410.9,877.0 412.1,865.4 413.6,877.5 415.1,889.5 416.3,887.0 417.5,885.7 418.7,883.7 419.9,881.4 421.1,879.4 422.5,876.7 423.8,874.3 425.2,871.4 426.4,871.6 427.7,872.2 428.9,872.1 430.2,873.4 431.3,877.9 432.4,882.5 433.5,887.0 434.7,883.9 435.9,880.5 437.0,876.4 438.2,873.4 439.5,874.6 440.8,875.5 442.0,876.1 443.3,877.4 444.5,877.3 445.6,877.1 446.8,875.4 448.0,875.0 449.4,873.7 450.9,870.5 452.3,869.4 453.6,872.1 455.0,874.6 456.3,877.4 457.6,879.7 458.9,881.1 460.1,883.0 461.4,885.5 462.9,880.2 464.5,875.0 465.7,868.1 466.9,861.3 468.1,872.4 469.4,883.5 470.6,881.7 471.8,880.2 473.0,878.0 474.5,875.3 476.0,872.8 477.5,869.4 478.8,867.8 480.0,868.4 481.3,871.2 482.7,873.7 484.0,876.0 485.2,877.8 486.4,877.3 487.6,878.0 488.8,879.8 490.0,880.0 491.2,879.3 492.4,876.5 493.6,874.4 494.8,874.1 496.0,872.0 497.3,871.5 498.7,870.0 500.0,868.0 501.2,871.9 502.5,877.3 503.8,881.1 505.0,886.0 506.2,886.5 507.5,884.7 508.8,885.9 510.0,885.0 511.3,883.8 512.6,883.6 513.9,883.4 515.2,884.5 516.6,885.2 517.9,885.5 519.3,886.5 520.7,880.0 522.0,873.4 523.4,866.8 524.8,860.3 526.1,863.4 527.4,866.5 528.7,869.4 530.0,872.0 531.4,872.5 532.7,873.8 534.0,874.8 535.4,877.4 536.8,878.6 538.2,879.7 539.6,883.4 541.0,884.0 542.3,886.2 543.6,886.7 544.8,887.8 546.1,889.5 547.4,889.5 548.5,887.2 549.7,884.7 550.9,883.0 552.0,880.0 553.2,871.7 554.3,863.3 555.5,855.0 557.5,836.2 558.8,855.8 560.1,875.4 561.3,880.1 562.4,884.8 563.6,889.5 565.0,888.5 566.4,888.2 567.7,886.7 569.1,885.5 570.3,884.0 571.5,882.2 572.8,882.8 574.0,880.0 575.2,879.4 576.5,878.6 577.7,877.7 579.0,876.3 580.2,875.4 582.2,869.4 583.7,873.6 585.2,877.4 586.4,874.6 587.5,872.3 588.7,870.4 590.0,875.4 591.3,879.4 592.5,879.0 593.6,877.4 594.8,876.0 596.0,876.0 597.3,876.9 598.7,878.3 600.0,880.0 601.2,882.0 602.4,881.4 603.6,881.9 604.8,884.6 606.0,885.0 607.2,885.9 608.4,885.3 609.6,885.9 610.8,887.1 612.0,888.0 613.2,889.7 614.5,889.2 615.7,888.0 616.9,888.6 618.2,889.7 619.4,890.5 620.5,889.4 621.7,891.0 622.9,889.5 624.0,890.5 625.4,890.1 626.8,889.5 628.1,887.1 629.5,886.5 630.9,884.5 632.2,882.0 633.6,880.5 635.0,879.4 636.5,873.9 638.0,868.0 639.5,856.5 641.0,845.0 642.0,837.6 643.1,830.2 644.5,826.5 646.0,822.0 647.3,824.5 648.6,825.0 649.8,804.1 651.0,783.1 652.2,762.2 654.2,805.0 655.2,825.0 656.5,857.0 657.8,863.1 659.1,869.2 660.4,875.4 661.7,881.5 663.2,875.5 664.7,869.4 665.7,859.3 666.9,857.8 668.0,856.2 669.1,853.8 670.3,852.3 671.5,850.6 672.8,850.2 674.0,848.0 675.1,844.7 676.2,840.6 677.3,837.7 678.5,845.5 679.8,853.3 681.2,851.2 682.6,848.3 684.0,848.1 685.4,845.2 686.7,842.9 688.1,840.6 689.4,838.2 690.7,839.2 692.1,838.9 693.4,838.2 695.0,845.2 696.3,847.6 697.7,849.8 699.0,851.3 700.2,854.2 701.3,857.5 702.5,861.3 703.8,846.2 705.1,831.2 706.6,855.3 708.1,879.4 709.4,867.9 710.7,856.5 712.0,845.0 713.4,831.7 714.7,818.3 716.1,805.0 718.1,757.2 719.4,781.1 720.7,805.0 722.0,826.1 723.2,847.3 724.5,847.7 725.8,849.5 727.1,852.0 728.4,852.4 729.7,853.3 731.0,865.3 732.2,877.4 733.5,866.2 734.7,855.0 736.0,844.1 737.3,833.2 738.5,841.6 739.6,849.9 740.8,858.3 742.0,843.7 743.3,829.1 744.6,837.0 746.0,845.0 747.1,841.0 748.2,837.6 749.3,834.2 750.5,839.7 751.8,845.2 753.5,835.0 755.4,823.1 756.4,805.0 758.2,740.0 759.6,652.6" fill="none" stroke="#ed601e" stroke-width="2.8" stroke-linejoin="round" stroke-linecap="round"/>
<polyline points="148.7,628.0 150.0,628.0 151.3,668.0 152.8,628.0 153.7,654.7 154.8,611.0 155.9,621.5 157.0,632.0 157.6,588.0 159.5,549.0 160.3,546.2 161.9,550.0 162.9,615.0 164.2,695.0 165.8,760.0 166.5,776.0 167.8,741.7 169.0,707.4 170.2,739.7 171.5,772.0 172.9,739.7 174.4,707.4 176.1,758.8 178.1,696.2 179.3,729.2 180.6,762.1 182.1,720.0 183.5,677.9 185.5,716.0 186.8,683.7 187.3,717.3 188.0,770.0 189.1,795.7 190.2,821.4 191.6,799.7 193.0,778.0 194.2,768.0 195.2,782.0 196.6,750.0 197.6,770.0 198.6,777.0 199.8,752.0 201.6,728.5 203.3,760.0 205.0,742.0 206.1,716.4 207.1,690.8 209.0,716.0 210.5,717.3 211.3,770.0 212.9,830.0 213.5,851.0 214.8,838.5 216.0,826.0 218.0,832.0 219.2,825.8 220.3,819.6 221.6,840.1 222.8,860.6 224.1,822.2 225.3,783.9 227.2,813.0 228.3,782.3 229.4,751.6 230.4,753.1 231.5,755.0 232.6,792.5 233.6,830.0 234.8,866.0 235.7,830.0 236.9,787.5 238.1,745.0 239.6,712.2 241.0,679.5 242.2,712.2 243.5,745.0 244.9,787.5 246.4,830.0 247.0,861.0 248.2,848.0 249.5,835.0 251.1,821.9 252.6,808.8 254.3,823.0 256.0,808.8 257.5,790.0 259.3,748.7 260.6,786.2 261.8,823.7 263.5,830.0 264.7,832.5 265.9,835.8 266.9,830.4 268.0,825.0 269.2,811.3 271.0,786.4 272.6,795.1 274.1,803.8 275.3,801.4 276.5,800.0 277.8,792.6 279.1,785.2 280.5,823.4 282.5,817.6 283.6,818.8 284.8,819.4 285.9,820.5 287.8,848.6 289.0,854.0 290.2,859.3 291.6,862.0 293.1,865.1 294.3,865.3 295.5,865.0 297.0,885.5 298.9,876.8 300.3,876.2 301.6,873.7 303.0,873.0 304.2,872.2 305.4,868.9 306.5,869.6 307.7,867.1 309.0,865.8 310.3,863.9 311.6,863.2 312.9,863.9 314.2,864.8 315.5,865.0 316.8,864.6 318.2,862.2 319.5,862.0 320.7,864.1 322.0,863.2 323.2,865.1 324.3,866.5 325.5,866.9 326.6,868.5 327.8,863.7 329.0,860.0 330.1,853.8 331.2,847.5 332.4,849.2 333.5,849.3 334.6,841.2 335.6,833.2 336.9,841.8 338.1,850.3 340.1,864.4 341.4,866.0 342.6,868.1 343.9,870.0 345.1,872.4 346.4,874.6 347.6,875.2 348.9,875.9 350.2,877.4 351.5,879.8 352.9,881.1 354.2,883.5 355.7,880.3 357.2,876.4 358.7,880.5 360.2,884.5 361.7,882.1 363.2,879.6 364.7,876.4 365.8,876.7 366.9,874.9 368.0,875.0 369.4,871.4 370.8,868.4 372.3,869.8 373.8,870.2 375.3,871.4 376.7,871.3 378.1,870.2 379.5,868.0 380.8,867.3 382.1,863.7 383.4,862.3 384.6,861.9 385.8,864.7 387.0,865.0 388.2,864.5 389.4,865.4 390.8,863.7 392.1,863.3 393.5,863.0 395.0,862.1 396.4,862.3 397.9,860.8 398.9,863.6 400.0,867.4 401.2,874.4 402.3,881.5 403.5,888.5 404.8,881.8 406.0,875.0 407.3,863.6 408.6,852.3 410.1,855.6 411.5,859.0 412.8,855.8 414.1,853.3 415.4,863.8 416.6,874.4 418.1,870.5 419.6,867.4 420.7,870.4 421.8,874.0 423.2,866.6 424.6,859.3 426.1,865.2 427.5,871.1 429.0,877.0 430.2,882.3 431.5,886.3 432.7,891.5 433.9,878.0 435.2,864.4 436.4,875.0 437.7,885.5 439.2,877.5 440.7,869.4 441.9,869.4 443.0,871.3 444.1,872.1 445.3,873.4 446.6,875.9 447.8,878.4 449.1,880.3 450.3,882.5 451.5,880.5 452.8,877.7 454.0,876.0 455.1,876.4 456.2,879.0 457.3,879.4 458.7,883.1 460.0,887.6 461.4,891.5 463.4,894.5 464.9,889.3 466.5,884.0 467.8,878.5 469.1,872.9 470.4,867.4 471.9,865.9 473.4,866.4 474.8,872.4 476.1,877.2 477.5,882.5 479.0,878.6 480.5,874.4 481.8,876.4 483.2,879.7 484.5,881.5 486.1,881.5 487.3,879.4 488.5,878.1 489.7,877.8 490.9,875.6 492.1,874.4 493.2,871.3 494.4,867.8 495.5,865.0 496.7,861.0 497.9,858.2 499.1,854.3 500.6,864.8 502.2,875.4 503.5,879.9 504.9,884.7 506.2,889.5 507.7,889.9 509.2,891.5 511.2,867.4 512.5,863.5 513.9,859.1 515.2,854.3 516.8,862.3 518.3,870.4 519.6,867.4 521.0,863.7 522.3,859.8 523.8,870.1 525.3,880.5 526.5,885.5 527.8,890.5 529.0,886.4 530.3,883.0 531.5,879.0 533.0,873.1 534.4,867.8 535.9,862.8 537.1,865.5 538.2,868.1 539.4,871.4 540.9,878.0 542.4,884.5 543.6,882.0 544.8,880.4 546.0,878.0 547.5,873.1 549.0,867.9 550.5,862.8 551.8,868.4 553.0,874.0 554.3,874.6 555.7,875.7 557.0,878.4 559.0,873.0 560.0,870.8 561.1,867.4 562.4,868.2 563.8,870.1 565.1,872.4 566.3,870.0 567.5,868.6 568.7,865.8 569.9,863.6 571.1,861.3 572.4,859.9 573.7,860.1 574.9,858.9 576.2,857.3 577.5,853.9 578.9,850.2 580.2,846.2 581.4,849.7 582.5,853.0 583.8,851.2 585.0,849.0 586.2,848.2 587.4,845.8 588.5,845.8 589.7,844.2 591.0,853.8 592.3,863.4 593.5,862.0 594.6,862.3 595.8,862.8 597.0,865.9 598.1,870.1 599.3,873.4 600.7,872.5 602.0,871.3 603.4,871.6 604.8,871.4 606.0,873.2 607.2,875.5 608.4,877.4 609.7,879.0 611.1,879.9 612.4,882.5 613.7,882.1 615.1,881.4 616.4,882.5 617.7,884.8 619.1,887.0 620.4,888.5 621.7,890.0 623.1,891.1 624.4,891.0 625.7,888.2 626.9,885.5 628.2,883.5 629.5,882.2 630.7,880.9 632.0,880.0 633.5,872.7 635.1,865.4 636.7,864.2 638.2,865.4 639.7,852.8 641.1,840.2 642.4,833.5 643.8,826.7 645.1,820.0 646.5,817.8 648.0,815.0 649.2,812.0 650.5,808.2 651.7,804.5 653.4,808.0 655.2,830.2 656.7,841.8 658.2,853.3 659.7,849.4 661.2,846.2 663.2,866.4 664.6,863.8 665.9,862.6 667.3,861.3 668.5,853.2 669.8,845.2 671.8,825.1 672.3,798.4 673.6,789.2 675.0,780.0 676.8,763.7 678.1,773.6 679.5,783.5 680.8,793.4 682.1,780.3 683.4,767.3 684.5,773.1 685.6,779.0 686.8,773.6 687.9,768.3 689.4,791.4 690.6,824.0 691.9,817.1 693.2,810.3 694.8,815.8 696.4,820.8 697.8,818.2 699.2,815.0 700.4,822.6 701.5,830.2 703.5,839.2 705.2,836.0 707.0,844.2 708.6,825.0 710.0,783.4 711.0,780.0 712.1,777.3 714.1,755.2 715.7,710.0 717.2,664.9 718.2,695.0 719.3,725.0 720.5,755.2 721.7,785.4 723.2,807.5 724.2,825.1 725.7,843.7 727.2,862.3 728.4,861.6 729.5,861.0 730.7,863.0 731.8,865.1 733.0,867.0 734.3,871.7 735.5,875.1 736.8,880.0 738.0,877.6 739.1,875.4 740.3,873.4 741.6,867.2 743.0,861.0 744.1,854.6 745.3,848.3 746.8,835.2 748.3,822.1 749.8,827.6 751.3,833.2 752.8,763.2 754.5,792.0 755.7,758.5 756.9,725.0 758.1,661.2 759.4,597.5" fill="none" stroke="#14981a" stroke-width="2.8" stroke-linejoin="round" stroke-linecap="round"/>
<polyline points="148.7,735.2 149.6,745.0 150.6,736.0 151.6,746.0 152.6,734.5 153.5,766.0 154.6,748.0 155.4,762.0 156.2,745.0 157.5,760.0 158.6,742.0 160.0,718.6 161.6,770.0 163.6,811.4 164.8,829.8 166.1,848.2 167.6,828.2 169.0,808.1 170.2,826.0 171.5,844.0 172.8,823.1 174.0,802.3 175.1,815.1 176.1,828.0 178.1,791.5 179.6,807.2 181.0,823.0 182.2,799.0 183.5,775.0 185.5,785.0 187.3,799.0 188.5,827.0 189.7,855.0 190.6,863.1 191.8,849.7 193.0,836.3 194.4,825.8 195.8,815.3 197.2,804.8 198.0,804.4 199.7,821.4 200.9,799.0 202.2,776.6 204.2,803.1 205.6,776.0 206.4,761.5 208.0,760.4 209.6,762.0 210.4,780.0 211.7,799.8 212.9,819.6 214.1,831.1 215.4,842.5 216.6,854.0 218.1,861.5 219.5,869.1 220.9,876.7 222.4,884.2 223.8,878.3 225.1,872.3 226.5,866.4 227.9,855.1 229.3,843.8 230.7,832.5 231.8,849.1 232.9,865.6 234.0,882.2 235.4,856.1 236.9,830.0 238.3,812.2 239.6,794.3 241.0,776.5 242.3,794.3 243.5,812.2 244.8,830.0 246.1,853.8 247.3,877.6 248.4,871.1 249.5,864.5 250.6,858.0 252.6,824.5 254.5,835.0 256.4,830.0 257.9,801.0 259.3,771.9 260.8,791.6 262.2,811.3 263.2,828.0 264.2,812.0 265.2,830.0 266.2,813.0 267.2,834.0 268.2,816.0 269.8,841.9 270.8,818.0 271.8,814.7 272.8,832.0 273.8,818.0 274.8,836.0 275.8,820.0 276.6,818.6 277.6,834.0 278.6,828.3 279.8,840.0 281.0,851.6 282.4,862.8 283.9,873.9 285.9,863.2 287.2,865.3 288.5,865.0 289.9,868.1 291.2,871.9 292.3,869.5 293.4,869.1 294.5,868.0 295.7,871.1 296.8,873.7 298.0,875.8 299.3,873.2 300.6,869.8 301.9,867.1 303.4,870.9 304.8,875.8 305.9,871.9 307.0,869.0 308.1,872.7 309.1,877.3 310.2,873.0 311.4,869.7 312.5,865.1 314.0,864.1 315.5,862.0 316.8,861.2 318.0,861.1 319.3,860.3 320.6,861.7 321.9,863.4 323.2,863.2 324.7,844.3 326.5,865.4 327.8,857.3 329.0,849.3 330.3,850.3 331.7,850.1 333.0,851.3 334.3,847.5 335.6,843.2 336.9,854.3 338.1,865.4 340.1,873.4 341.4,875.2 342.6,875.6 343.9,878.9 345.1,879.4 346.4,879.8 347.6,882.5 348.9,884.9 350.2,885.5 351.4,887.5 352.7,887.2 353.9,889.4 355.2,890.5 356.4,889.3 357.7,891.1 358.9,890.3 360.2,890.5 361.5,887.9 362.9,885.1 364.2,882.5 365.5,883.9 366.7,883.7 368.0,883.5 369.1,881.3 370.2,879.6 371.3,877.4 372.7,878.4 374.1,880.2 375.5,880.5 376.7,882.1 377.9,885.0 379.1,886.2 380.3,887.5 381.9,881.0 383.4,874.4 384.9,881.0 386.4,887.5 387.9,885.1 389.5,881.5 390.7,880.3 391.9,880.4 393.0,879.8 394.2,879.5 395.4,880.5 396.9,879.2 398.5,879.5 400.0,884.5 401.5,889.2 403.0,893.5 404.5,890.8 406.0,887.7 407.5,885.5 408.0,881.5 409.5,882.0 411.0,883.5 412.6,878.5 414.1,874.4 416.0,885.5 417.3,883.1 418.6,881.5 419.9,886.5 421.1,891.5 422.5,887.9 423.8,884.0 425.2,879.4 426.5,882.8 427.9,886.3 429.2,889.5 430.7,889.9 432.2,890.5 433.5,883.5 434.9,876.4 436.2,869.4 437.4,864.9 438.5,861.2 439.7,856.8 440.9,861.0 442.1,865.6 443.3,870.4 444.5,866.5 445.6,863.5 446.8,860.3 448.0,865.3 449.1,870.4 450.3,875.4 451.6,877.6 453.0,879.6 454.3,881.5 455.8,886.0 457.3,891.5 458.7,893.7 460.0,894.3 461.4,894.5 462.9,890.8 464.4,887.5 465.6,879.5 466.9,871.4 468.1,873.3 469.2,872.3 470.4,874.4 471.6,873.9 472.8,873.5 474.1,872.3 475.3,872.9 476.5,871.4 477.9,871.1 479.2,868.6 480.6,867.0 482.0,866.4 483.6,872.9 485.1,878.4 486.4,880.2 487.8,882.1 489.1,884.5 490.6,880.9 492.0,877.4 493.1,880.9 494.1,884.5 495.4,879.5 496.6,874.5 497.9,869.4 499.1,864.4 500.6,875.0 502.2,885.5 503.5,888.5 504.9,891.6 506.2,895.5 507.7,889.5 509.2,883.5 510.5,878.5 511.7,874.4 513.0,870.0 514.1,864.6 515.2,859.3 516.5,866.3 517.8,873.4 519.0,871.6 520.3,869.4 521.6,868.6 523.0,867.7 524.3,865.4 525.8,874.5 527.3,883.5 528.7,883.3 530.1,881.9 531.5,879.5 532.7,875.4 534.0,871.7 535.2,868.2 536.4,864.4 537.9,875.0 539.4,885.5 540.9,888.2 542.4,890.5 543.9,884.0 545.4,877.4 546.7,877.9 548.1,879.2 549.4,881.5 550.6,883.9 551.8,884.6 553.1,886.9 554.3,888.0 556.0,855.3 557.5,841.5 558.8,853.5 560.1,865.4 561.6,874.0 563.1,882.5 564.6,884.3 566.1,885.5 567.4,881.0 568.8,878.0 570.1,873.4 571.4,875.1 572.8,877.6 574.1,879.4 575.5,877.2 576.8,874.5 578.2,871.4 579.7,866.6 581.2,861.3 582.4,856.6 583.5,852.5 584.7,848.3 586.2,849.5 587.7,852.3 588.9,852.8 590.0,855.3 591.1,863.3 592.3,871.4 593.5,869.1 594.6,867.4 595.8,865.4 597.0,870.0 598.1,874.3 599.3,878.4 600.5,879.7 601.8,882.5 603.0,883.8 604.3,884.5 605.5,883.5 606.7,882.3 608.0,880.4 609.2,880.4 610.4,878.4 612.4,887.5 613.6,887.6 614.8,886.2 616.0,885.0 617.2,883.9 618.4,884.5 619.6,881.7 620.9,877.5 622.1,875.0 623.4,871.4 624.7,869.4 626.0,867.3 627.3,865.0 628.6,868.2 629.9,870.6 631.2,874.0 632.4,873.1 633.7,871.7 634.9,870.0 636.1,869.4 637.6,874.1 639.1,879.4 640.6,874.4 642.1,869.4 643.4,867.1 644.8,865.3 646.1,863.4 647.5,863.3 649.0,863.4 650.1,858.8 651.2,854.3 652.7,863.8 654.2,873.4 655.5,875.0 656.7,874.4 658.7,857.3 660.7,871.4 662.2,871.6 663.7,871.4 665.0,874.5 666.2,877.4 667.5,876.6 668.8,875.7 670.0,877.7 671.3,876.4 673.3,867.4 674.6,867.9 676.0,866.5 677.3,865.4 678.5,868.2 679.8,871.4 681.0,869.1 682.2,867.2 683.4,864.4 684.6,867.8 685.9,871.4 687.4,867.9 688.9,865.4 690.1,865.7 691.4,867.4 692.7,862.9 694.1,858.5 695.4,854.3 696.7,856.1 698.1,859.2 699.4,861.3 700.8,866.5 702.1,871.5 703.5,877.4 704.9,878.8 706.3,880.1 707.7,881.0 709.1,883.5 710.4,874.5 711.6,865.4 713.1,835.2 714.3,790.0 715.1,783.4 716.2,789.2 717.2,795.0 718.6,810.0 719.6,845.2 720.7,858.3 721.7,871.4 723.2,872.6 724.7,875.2 726.2,875.4 727.7,880.5 729.7,865.4 731.0,862.9 732.2,861.3 733.5,864.0 734.7,866.4 735.9,863.8 737.0,864.5 738.2,862.3 739.8,864.5 741.3,865.4 742.5,861.8 743.8,858.3 745.8,871.4 747.0,865.3 748.3,859.3 749.8,862.5 751.3,866.0 752.8,869.4 754.1,860.8 755.4,852.3 757.4,857.3 759.2,785.4" fill="none" stroke="#0ee9ea" stroke-width="2.8" stroke-linejoin="round" stroke-linecap="round"/>
<path d="M799.6 533.6V909.0" stroke="#383838" stroke-width="2.8" fill="none"/>
<path d="M146.6 907.6H801.0" stroke="#383838" stroke-width="2.8" fill="none"/>
<path d="M147.4 533.6V909.0" stroke="#101010" stroke-width="1.7" fill="none"/>
<path d="M146.6 534.7H801.0" stroke="#141414" stroke-width="1.9" fill="none"/>
<path d="M147.4 870.3h4M799.6 870.3h-4.6" stroke="#1a1a1a" stroke-width="1.3"/>
<path d="M147.4 833.0h4M799.6 833.0h-4.6" stroke="#1a1a1a" stroke-width="1.3"/>
<path d="M147.4 795.7h4M799.6 795.7h-4.6" stroke="#1a1a1a" stroke-width="1.3"/>
<path d="M147.4 758.4h4M799.6 758.4h-4.6" stroke="#1a1a1a" stroke-width="1.3"/>
<path d="M147.4 721.0h4M799.6 721.0h-4.6" stroke="#1a1a1a" stroke-width="1.3"/>
<path d="M147.4 683.7h4M799.6 683.7h-4.6" stroke="#1a1a1a" stroke-width="1.3"/>
<path d="M147.4 646.4h4M799.6 646.4h-4.6" stroke="#1a1a1a" stroke-width="1.3"/>
<path d="M147.4 609.1h4M799.6 609.1h-4.6" stroke="#1a1a1a" stroke-width="1.3"/>
<path d="M147.4 571.8h4M799.6 571.8h-4.6" stroke="#1a1a1a" stroke-width="1.3"/>
<path d="M212.6 907.6v-4.6M212.6 534.5v3.6" stroke="#1a1a1a" stroke-width="1.3"/>
<path d="M277.8 907.6v-4.6M277.8 534.5v3.6" stroke="#1a1a1a" stroke-width="1.3"/>
<path d="M343.1 907.6v-4.6M343.1 534.5v3.6" stroke="#1a1a1a" stroke-width="1.3"/>
<path d="M408.3 907.6v-4.6M408.3 534.5v3.6" stroke="#1a1a1a" stroke-width="1.3"/>
<path d="M473.5 907.6v-4.6M473.5 534.5v3.6" stroke="#1a1a1a" stroke-width="1.3"/>
<path d="M538.7 907.6v-4.6M538.7 534.5v3.6" stroke="#1a1a1a" stroke-width="1.3"/>
<path d="M603.9 907.6v-4.6M603.9 534.5v3.6" stroke="#1a1a1a" stroke-width="1.3"/>
<path d="M669.2 907.6v-4.6M669.2 534.5v3.6" stroke="#1a1a1a" stroke-width="1.3"/>
<path d="M734.4 907.6v-4.6M734.4 534.5v3.6" stroke="#1a1a1a" stroke-width="1.3"/>
<text transform="translate(133.8 913.2) scale(1.04 1)" text-anchor="end" class="t">0.00</text>
<text transform="translate(133.8 875.9) scale(1.04 1)" text-anchor="end" class="t">0.20</text>
<text transform="translate(133.8 838.6) scale(1.04 1)" text-anchor="end" class="t">0.40</text>
<text transform="translate(133.8 801.3) scale(1.04 1)" text-anchor="end" class="t">0.60</text>
<text transform="translate(133.8 764.0) scale(1.04 1)" text-anchor="end" class="t">0.80</text>
<text transform="translate(133.8 726.6) scale(1.04 1)" text-anchor="end" class="t">1.00</text>
<text transform="translate(133.8 689.3) scale(1.04 1)" text-anchor="end" class="t">1.20</text>
<text transform="translate(133.8 652.0) scale(1.04 1)" text-anchor="end" class="t">1.40</text>
<text transform="translate(133.8 614.7) scale(1.04 1)" text-anchor="end" class="t">1.60</text>
<text transform="translate(133.8 577.4) scale(1.04 1)" text-anchor="end" class="t">1.80</text>
<text transform="translate(133.8 540.1) scale(1.04 1)" text-anchor="end" class="t">2.00</text>
<text transform="translate(146.6 937.6) scale(1.04 1)" text-anchor="middle" class="t">0</text>
<text transform="translate(211.8 937.6) scale(1.04 1)" text-anchor="middle" class="t">50</text>
<text transform="translate(277.0 937.6) scale(1.04 1)" text-anchor="middle" class="t">100</text>
<text transform="translate(342.3 937.6) scale(1.04 1)" text-anchor="middle" class="t">150</text>
<text transform="translate(407.5 937.6) scale(1.04 1)" text-anchor="middle" class="t">200</text>
<text transform="translate(472.7 937.6) scale(1.04 1)" text-anchor="middle" class="t">250</text>
<text transform="translate(537.9 937.6) scale(1.04 1)" text-anchor="middle" class="t">300</text>
<text transform="translate(603.1 937.6) scale(1.04 1)" text-anchor="middle" class="t">350</text>
<text transform="translate(668.4 937.6) scale(1.04 1)" text-anchor="middle" class="t">400</text>
<text transform="translate(733.6 937.6) scale(1.04 1)" text-anchor="middle" class="t">450</text>
<text transform="translate(798.8 937.6) scale(1.04 1)" text-anchor="middle" class="t">500</text>
<text transform="translate(473.5 974.1) scale(1.04 1)" text-anchor="middle" class="t">Residue</text>
<text transform="translate(69.2 721.3) rotate(-90) scale(1 1.08)" text-anchor="middle" class="t">RMSDEV [nm]</text>
<rect x="387" y="540.8" width="172.7" height="73.3" fill="#fff" stroke="#1c1c1c" stroke-width="2.3"/>
<path d="M385.9 541.7H560.9" stroke="#111" stroke-width="4.3"/>
<text transform="translate(513.8 559.8) scale(1.04 1)" text-anchor="end" class="t">apo</text>
<path d="M524.6 553.7H549" stroke="#ed601e" stroke-width="2.9"/>
<text transform="translate(513.8 583.9) scale(1.04 1)" text-anchor="end" class="t">holo</text>
<path d="M524.6 577.8H549" stroke="#14981a" stroke-width="2.9"/>
<text transform="translate(513.8 608.0) scale(1.04 1)" text-anchor="end" class="t">holo-GABA</text>
<path d="M524.6 601.9H549" stroke="#0ee9ea" stroke-width="2.9"/>
<text x="1.2" y="466.8" class="b" font-size="48.4">A</text>
<text x="1.9" y="1028.7" class="b" font-size="47.2">B</text>
<path d="M144 987.2H236.6" stroke="#3a6fb7" stroke-width="3.3"/>
<path d="M239 987.2H286.2" stroke="#cc2020" stroke-width="3.3"/>
<path d="M650.2 985.9L761.5 987.9" stroke="#1b8a1e" stroke-width="3.2"/>
<text x="128.6" y="1028" class="b" font-size="31">wHTH</text>
<text x="237.6" y="1028" class="b" font-size="30.4">Linker</text>
<text x="609.6" y="1028.5" class="b" font-size="30.75">Small subdomain</text>
</svg>
</body></html>
